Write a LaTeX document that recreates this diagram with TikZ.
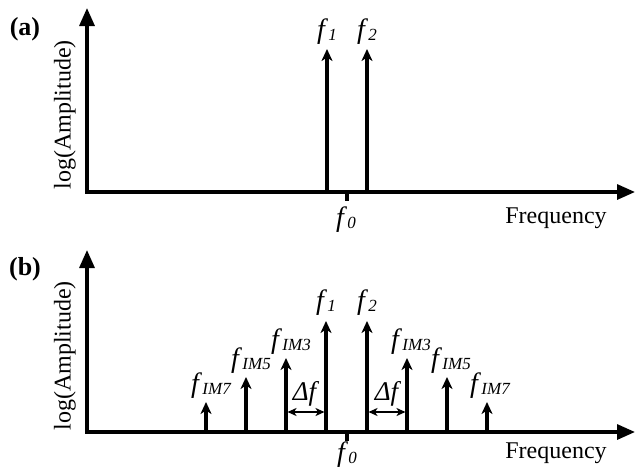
\documentclass[tikz,border=0pt]{standalone}
\usepackage{fontspec}
\setmainfont{Liberation Serif}
\usetikzlibrary{arrows.meta}
\newcommand{\flab}[1]{{\fontsize{28}{28}\selectfont\textit{f}}\kern0.3pt\raisebox{-1.5pt}{\fontsize{17}{17}\selectfont\itshape #1}}
\begin{document}
\begin{tikzpicture}[x=1pt,y=-1pt,
  axis/.style={line width=3.2pt,-{Triangle[length=18pt,width=15pt]}},
  spike/.style={line width=3.6pt,-{Stealth[length=12pt,width=11pt,inset=3.5pt]}},
  tick/.style={line width=3.2pt},
  gap/.style={line width=1.6pt,{Stealth[length=9pt,width=8pt,inset=2.5pt]}-{Stealth[length=9pt,width=8pt,inset=2.5pt]}},
  lbl/.style={font=\fontsize{24}{24}\selectfont,inner sep=0pt},
  plab/.style={font=\fontsize{26}{26}\selectfont\bfseries,inner sep=0pt}]
\useasboundingbox (0,0) rectangle (635,467);
% ---------- panel (a)
\coordinate (oa) at (87,192);
\coordinate (ya) at (87,8);
\coordinate (xa) at (635,192);
\draw[axis] ([yshift=-1.6pt]oa) -- (ya);
\draw[axis] ([xshift=-1.6pt]oa) -- (xa);
\node[plab] (pa) at (25,29) {(a)};
\node[lbl,rotate=90] (ylaba) at (65,115) {log(Amplitude)};
\node[lbl] (xlaba) at (556,218) {Frequency};
\coordinate (a1b) at (327,192); \coordinate (a1t) at (327,49);
\coordinate (a2b) at (367,192); \coordinate (a2t) at (367,49);
\draw[spike] (a1b) -- (a1t);
\draw[spike] (a2b) -- (a2t);
\coordinate (a0t) at (347,192); \coordinate (a0b) at (347,201);
\draw[tick] (a0t) -- (a0b);
\node[lbl] (fa1) at (327,32) {\flab{1}};
\node[lbl] (fa2) at (367,32) {\flab{2}};
\node[lbl] (fa0) at (346,220) {\flab{0}};
% ---------- panel (b)
\coordinate (ob) at (87,432);
\coordinate (yb) at (87,250);
\coordinate (xb) at (635,432);
\draw[axis] ([yshift=-1.6pt]ob) -- (yb);
\draw[axis] ([xshift=-1.6pt]ob) -- (xb);
\node[plab] (pb) at (25,269) {(b)};
\node[lbl,rotate=90] (ylabb) at (65,356) {log(Amplitude)};
\node[lbl] (xlabb) at (556,453) {Frequency};
\coordinate (b0t) at (347,432); \coordinate (b0b) at (347,441);
\draw[tick] (b0t) -- (b0b);
\node[lbl] (fb0) at (347,455) {\flab{0}};
% spikes
\foreach \n/\x/\t in {l7/206/402, l5/246/377, l3/286/358, c1/326/321, c2/367/321, r3/407/358, r5/447/377, r7/487/402}{
  \coordinate (\n b) at (\x,432);
  \coordinate (\n t) at (\x,\t);
  \draw[spike] (\n b) -- (\n t);
}
\node[lbl] (fb1) at (326,303) {\flab{1}};
\node[lbl] (fb2) at (367,303) {\flab{2}};
\node[lbl] (fl3) at (291,342) {\flab{IM3}};
\node[lbl] (fl5) at (251,361) {\flab{IM5}};
\node[lbl] (fl7) at (211,386) {\flab{IM7}};
\node[lbl] (fr3) at (411,342) {\flab{IM3}};
\node[lbl] (fr5) at (451,361) {\flab{IM5}};
\node[lbl] (fr7) at (490,386) {\flab{IM7}};
% delta f
\coordinate (dl1) at (287.5,412); \coordinate (dl2) at (324.5,412);
\coordinate (dr1) at (368.5,412); \coordinate (dr2) at (405.5,412);
\draw[gap] (dl1) -- (dl2);
\draw[gap] (dr1) -- (dr2);
\node[lbl,font=\fontsize{27}{27}\selectfont] (dfl) at (306,394) {\textit{Δf}};
\node[lbl,font=\fontsize{27}{27}\selectfont] (dfr) at (388,394) {\textit{Δf}};
\end{tikzpicture}
\end{document}
